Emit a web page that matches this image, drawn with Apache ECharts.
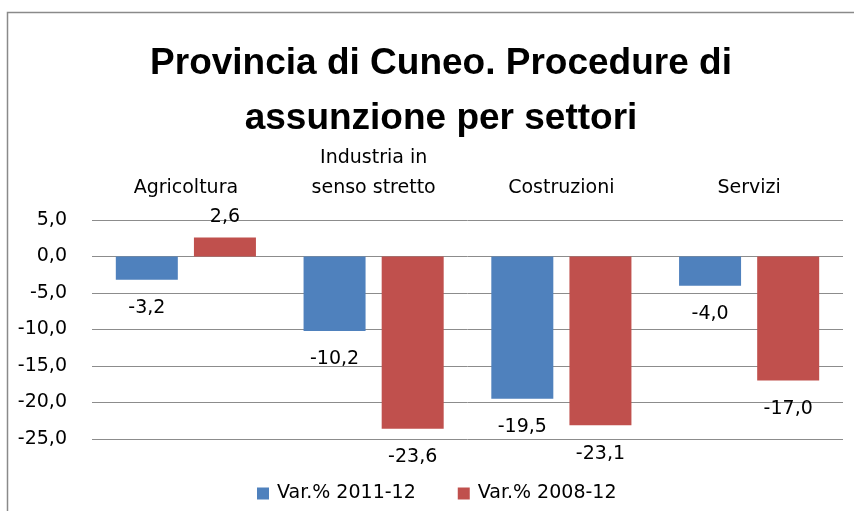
<!DOCTYPE html>
<html>
<head>
<meta charset="utf-8">
<script src="https://cdn.jsdelivr.net/npm/echarts@6/dist/echarts.min.js"></script>
<style>html,body{margin:0;padding:0;background:#fff}#c{width:854px;height:511px}</style>
</head>
<body>
<div id="c"></div>
<script>
const categories = ['Agricoltura', 'Industria in\nsenso stretto', 'Costruzioni', 'Servizi'];
const seriesNames = ['Var.% 2011-12', 'Var.% 2008-12'];
const var2011_12 = [-3.2, -10.2, -19.5, -4.0];
const var2008_12 = [2.6, -23.6, -23.1, -17.0];
const yMin = -25, yMax = 5, yStep = 5;
const titleText = 'Provincia di Cuneo. Procedure di\nassunzione per settori';

const FONT = 'DejaVu Sans';
const FS = 19;
const fmt = v => v.toFixed(1).replace('.', ',');
function toData(arr) {
  return arr.map(v => ({
    value: v,
    label: { position: v < 0 ? 'bottom' : 'top', distance: v < 0 ? 19 : 11 }
  }));
}

const chart = echarts.init(document.getElementById('c'), null, { renderer: 'canvas' });
chart.setOption({
  animation: false,
  backgroundColor: '#ffffff',
  graphic: [{
    type: 'rect',
    shape: { x: 7.5, y: 12.5, width: 900, height: 600 },
    style: { fill: 'none', stroke: '#8a8a8a', lineWidth: 1.5 },
    silent: true
  }],
  title: {
    text: titleText,
    left: 436,
    textAlign: 'center',
    top: 31,
    textStyle: { fontFamily: 'Liberation Sans', fontWeight: 'bold', fontSize: 37, lineHeight: 55, color: '#000' }
  },
  legend: {
    data: seriesNames,
    left: 252,
    top: 479,
    itemWidth: 12,
    itemHeight: 12,
    itemGap: 42,
    icon: 'rect',
    textStyle: { fontFamily: FONT, fontSize: FS, color: '#000', padding: [0, 0, 0, 3] }
  },
  grid: { left: 92, right: 11, top: 220, bottom: 72 },
  xAxis: {
    type: 'category',
    data: categories,
    position: 'top',
    axisLine: { show: false },
    axisTick: { show: false },
    axisLabel: { margin: 17, fontFamily: FONT, fontSize: FS, color: '#000', lineHeight: 30, interval: 0 }
  },
  yAxis: {
    type: 'value',
    min: yMin, max: yMax, interval: yStep,
    axisLine: { show: false },
    axisTick: { show: false },
    splitLine: { lineStyle: { color: '#8c8c8c', width: 1 } },
    axisLabel: { margin: 25, fontFamily: FONT, fontSize: FS, color: '#000', formatter: v => fmt(v) }
  },
  series: [
    {
      name: seriesNames[0], type: 'bar', data: toData(var2011_12),
      barWidth: 62, barGap: '26%',
      itemStyle: { color: '#4F81BD' },
      label: { show: true, fontFamily: FONT, fontSize: FS, color: '#000', formatter: p => fmt(p.value) }
    },
    {
      name: seriesNames[1], type: 'bar', data: toData(var2008_12),
      barWidth: 62, barGap: '26%',
      itemStyle: { color: '#C0504D' },
      label: { show: true, fontFamily: FONT, fontSize: FS, color: '#000', formatter: p => fmt(p.value) }
    }
  ]
});
</script>
</body>
</html>
